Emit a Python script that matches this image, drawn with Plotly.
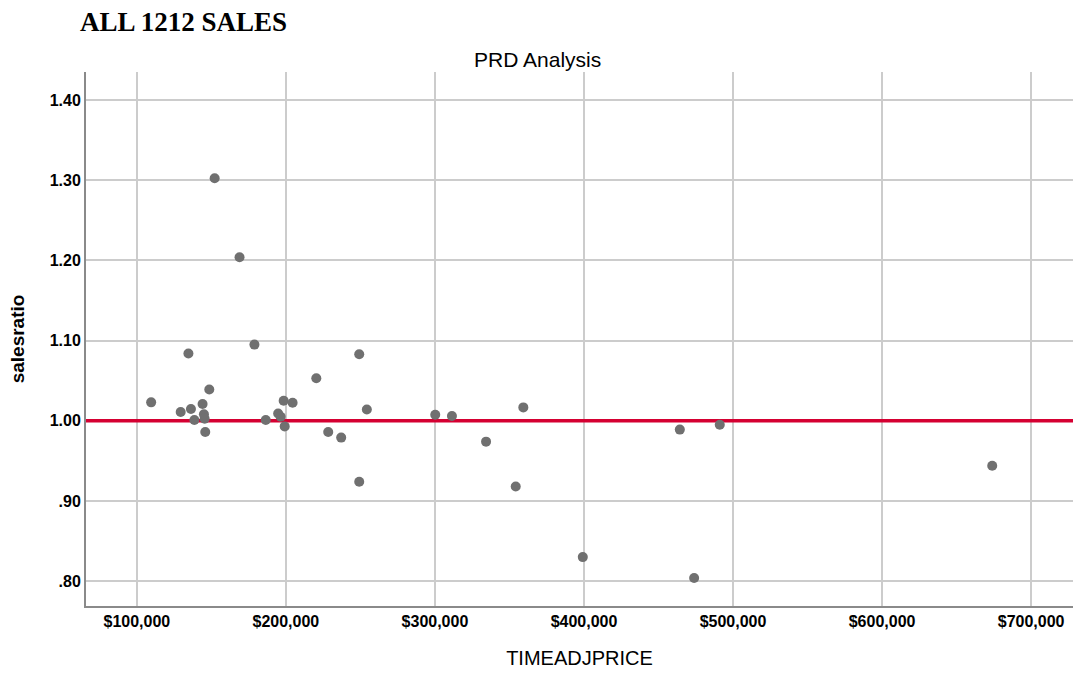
import plotly.graph_objects as go

price = [109600, 129400, 136300, 134600, 138600, 144100, 145000, 145500, 145900, 148600,
         152200, 168900, 178900, 186500, 194800, 196500, 199200, 198500, 204500, 220400,
         228400, 237100, 249200, 254300, 249200, 300200, 311400, 334300, 359300, 354200,
         464300, 491100, 399200, 473900, 673900]
ratio = [1.023, 1.011, 1.0146, 1.084, 1.001, 1.021, 1.008, 1.0025, 0.986, 1.039,
         1.3025, 1.204, 1.095, 1.001, 1.009, 1.005, 0.993, 1.025, 1.0225, 1.053,
         0.986, 0.979, 1.083, 1.014, 0.924, 1.0075, 1.006, 0.974, 1.0167, 0.918,
         0.989, 0.995, 0.83, 0.804, 0.944]

x_ticks = [100000, 200000, 300000, 400000, 500000, 600000, 700000]
x_tick_text = ["$100,000", "$200,000", "$300,000", "$400,000", "$500,000", "$600,000", "$700,000"]
y_ticks = [0.8, 0.9, 1.0, 1.1, 1.2, 1.3, 1.4]
y_tick_text = [".80", ".90", "1.00", "1.10", "1.20", "1.30", "1.40"]
ref_ratio = 1.0

x_range = [65886, 728094]
y_range = [0.769, 1.435]

W, H = 1075, 677
ML, MR, MT, MB = 86, 2, 72, 71
plot_w = W - ML - MR
plot_h = H - MT - MB

fig = go.Figure()
fig.add_trace(go.Scatter(
    x=x_range, y=[ref_ratio, ref_ratio], mode="lines",
    line=dict(color="#D50032", width=3.5), hoverinfo="skip", showlegend=False))
fig.add_trace(go.Scatter(
    x=price, y=ratio, mode="markers",
    marker=dict(color="#707070", size=10, line=dict(width=0)),
    showlegend=False))

fig.update_layout(
    width=W, height=H,
    margin=dict(l=ML, r=MR, t=MT, b=MB, autoexpand=False),
    paper_bgcolor="white", plot_bgcolor="white",
    font=dict(family="Liberation Sans, Arial, sans-serif", color="black"),
    annotations=[
        dict(text="<b>ALL 1212 SALES</b>", x=(78 - ML) / plot_w, y=(H - MB - 22) / plot_h,
             xref="paper", yref="paper",
             showarrow=False, xanchor="left", yanchor="middle",
             font=dict(family="Liberation Serif, Times New Roman, serif", size=27, color="black")),
        dict(text="PRD Analysis", x=(537 - ML) / plot_w, y=(H - MB - 60) / plot_h,
             xref="paper", yref="paper",
             showarrow=False, xanchor="center", yanchor="middle",
             font=dict(size=21, color="black")),
    ],
)

fig.update_xaxes(
    range=x_range, tickvals=x_ticks, ticktext=x_tick_text,
    showgrid=True, gridcolor="#CCCCCC", gridwidth=1.5,
    showline=True, linecolor="#8A8A8A", linewidth=2,
    zeroline=False, ticks="",
    tickfont=dict(size=16, family="Liberation Sans, Arial", color="black", weight="bold"),
    title=dict(text="TIMEADJPRICE", font=dict(size=20, color="black"), standoff=22),
)
fig.update_yaxes(
    range=y_range, tickvals=y_ticks, ticktext=y_tick_text,
    showgrid=True, gridcolor="#CCCCCC", gridwidth=1.5,
    showline=True, linecolor="#8A8A8A", linewidth=2,
    zeroline=False, ticks="",
    tickfont=dict(size=16, family="Liberation Sans, Arial", color="black", weight="bold"),
    title=dict(text="<b>salesratio</b>", font=dict(size=19, color="black"), standoff=20),
)

fig.write_html("out.html", config={"displayModeBar": False},
               post_script="document.body.style.margin='0';document.body.style.padding='0';")
